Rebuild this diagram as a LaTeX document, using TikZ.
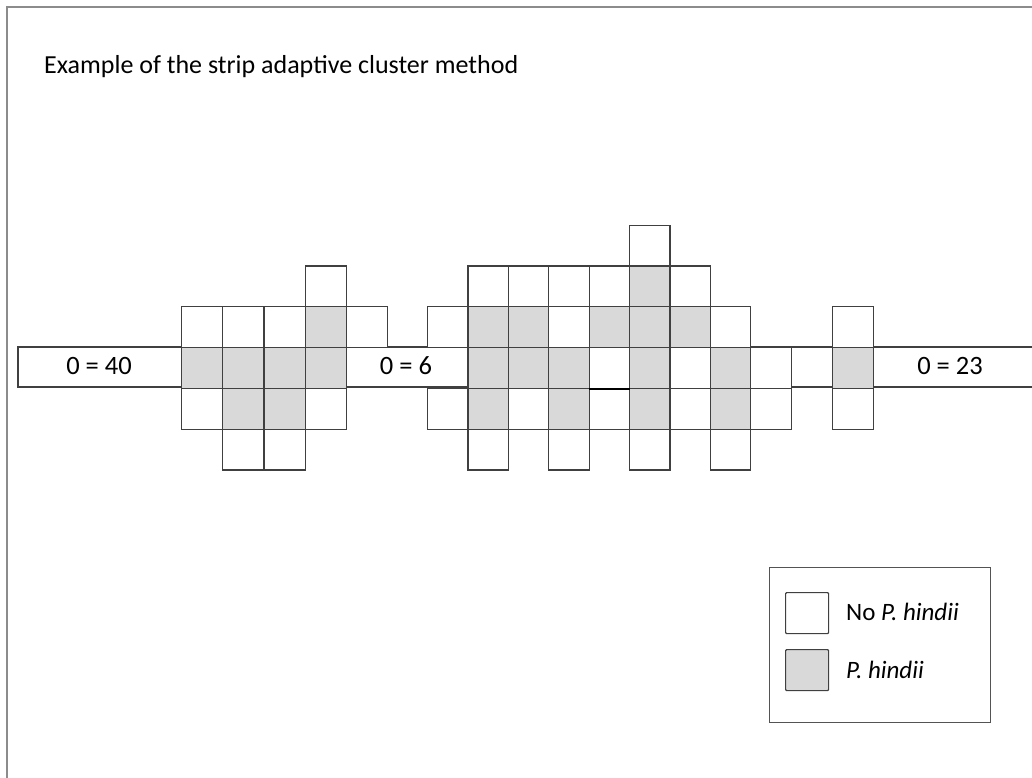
\documentclass[tikz,border=0pt]{standalone}
\usepackage{fontspec}
\setmainfont{Carlito}
\usepackage{tikz}
\usetikzlibrary{positioning}
\definecolor{gridline}{HTML}{404040}
\definecolor{hindii}{HTML}{D9D9D9}
\definecolor{framegray}{HTML}{8C8C8C}
\tikzset{
  cell/.style    = {draw=gridline, fill=white, line width=1.1pt, inner sep=0pt,
                    minimum width=41pt, minimum height=40.8pt, anchor=north west},
  hcell/.style   = {cell, fill=hindii},
  stripl/.style  = {draw=gridline, line width=1.1pt},
  cnt/.style     = {font=\fontsize{26.5}{31}\selectfont, inner sep=0pt},
  ttl/.style     = {font=\fontsize{26}{31}\selectfont, inner sep=0pt, anchor=base west},
  legbox/.style  = {draw=gridline!90, line width=1.3pt, inner sep=0pt,
                    minimum width=221pt, minimum height=155pt, anchor=north west},
  legkey/.style  = {draw=gridline, line width=1.2pt, rounded corners=1pt, inner sep=0pt,
                    minimum width=43pt, minimum height=41pt, anchor=north west},
  legtxt/.style  = {font=\fontsize{25}{30}\selectfont, inner sep=0pt, anchor=west},
}
\newcommand{\rowy}[1]{347+40.8*(#1-3)}

\begin{document}
\begin{tikzpicture}[x=1pt,y=-1pt]
  \useasboundingbox (0,0) rectangle (1032,778);
  % frame
  \draw[framegray, line width=2.4pt] (7,778) -- (7,7) -- (1032,7);
  \node[ttl] (title) at (44,74) {Example of the strip adaptive cluster method};
  % the strip
  \draw[stripl] (1032,347) -- (18,347) -- (18,387) -- (1032,387);
  % first cluster
  \foreach \k/\r/\s in {0/2/cell,0/3/hcell,0/4/cell,1/2/cell,1/3/hcell,1/4/hcell,
      1/5/cell,2/2/cell,2/3/hcell,2/4/hcell,2/5/cell,3/1/cell,3/2/hcell,3/3/hcell,
      3/4/cell,4/2/cell}
    \node[\s, minimum width=41.2pt] (a\k\r) at ({181+41.2*\k},{\rowy{\r}}) {};
  % second cluster
  \foreach \k/\r/\s in {0/2/cell,0/4/cell,1/1/cell,1/2/hcell,1/3/hcell,1/4/hcell,
      1/5/cell,2/1/cell,2/2/hcell,2/3/hcell,2/4/cell,3/1/cell,3/2/cell,3/3/hcell,
      3/4/hcell,3/5/cell,4/1/cell,4/2/hcell,4/3/cell,4/4/cell,5/0/cell,5/1/hcell,
      5/2/hcell,5/3/hcell,5/4/hcell,5/5/cell,6/1/cell,6/2/hcell,6/3/cell,6/4/cell,
      7/2/cell,7/3/hcell,7/4/hcell,7/5/cell,8/3/cell,8/4/cell}
    \node[\s, minimum width=40.4pt] (b\k\r) at ({427+40.4*\k},{\rowy{\r}}) {};
  \draw[black, line width=1.8pt] (b43.south west) -- (b43.south east);
  % third cluster
  \foreach \r/\s in {2/cell,3/hcell,4/cell}
    \node[\s] (c0\r) at (832,{\rowy{\r}}) {};
  % counts along the strip
  \node[cnt] (n1) at (99,366) {0 = 40};
  \node[cnt] (n2) at (406,366) {0 = 6};
  \node[cnt] (n3) at (950,366) {0 = 23};
  % legend
  \node[legbox] (legend) at (769,567) {};
  \node[legkey, fill=white] (knone) at (785,592) {};
  \node[legkey, fill=hindii] (khin) at (785,649) {};
  \node[legtxt] (tnone) at (846,612) {No \textit{P. hindii}};
  \node[legtxt] (thin) at (846,670) {\textit{P. hindii}};
\end{tikzpicture}
\end{document}
